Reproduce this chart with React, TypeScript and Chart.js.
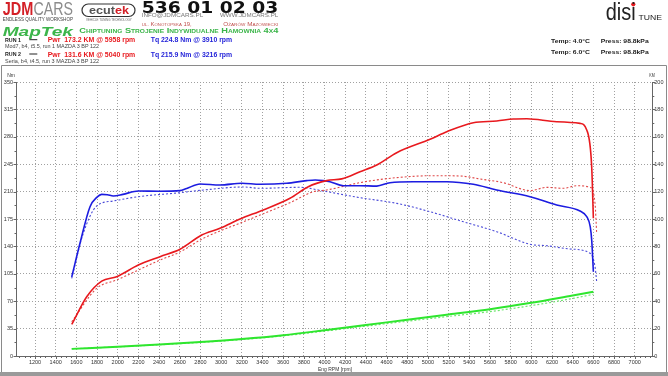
import React, { useEffect, useRef } from "react";
import { Chart, registerables } from "chart.js";
Chart.register(...registerables);

// ---------- DATA ----------
const run1PwrRpm = [1555, 1700, 1845, 1990, 2199, 2409, 2602, 2812, 2989, 3183, 3408, 3666, 3843, 4021, 4166, 4343, 4505, 4698, 5021, 5182, 5439, 5665, 5826, 5958, 6245, 6471, 6536, 6584, 6600];
const run1Pwr = [23, 43.3, 54.7, 57.9, 66.4, 72.5, 77.9, 88.3, 93.2, 100, 106.6, 115.1, 123.6, 128, 129.3, 134.5, 139.4, 148.4, 158.2, 163.7, 170.3, 171.5, 173, 173.2, 171, 169.8, 165, 138, 100.5];

const run1TqRpm = [1555, 1635, 1732, 1800, 1845, 1900, 1957, 2050, 2199, 2400, 2602, 2667, 2796, 2989, 3199, 3376, 3634, 3828, 3910, 3988, 4053, 4182, 4343, 4505, 4633, 4859, 5182, 5439, 5665, 5987, 6245, 6471, 6536, 6570, 6584, 6600];
const run1Tq = [101, 144, 190.7, 203, 206.5, 206, 204.4, 206.5, 210.8, 210.5, 211.2, 214, 219.7, 218.4, 220.6, 219.3, 220.6, 224, 224.8, 224, 222.6, 217.5, 217.5, 217, 221.4, 222.6, 222.6, 219.3, 212, 203.5, 192.9, 185.2, 178, 165, 148, 107.7];

const run2PwrRpm = [1555, 1797, 1990, 2409, 2602, 2828, 3215, 3666, 3892, 4021, 4376, 4698, 5040, 5311, 5504, 5729, 5987, 6149, 6310, 6439, 6568, 6616, 6632];
const run2Pwr = [25, 49.4, 55.5, 70, 76, 85.9, 98, 111.9, 119.9, 121.2, 127, 130.2, 131.6, 131.4, 129.2, 126.5, 120.7, 123.1, 122.4, 124.3, 123.1, 111.5, 89.6];

const run2TqRpm = [1555, 1667, 1797, 1957, 2199, 2602, 2828, 3216, 3376, 3763, 3988, 4343, 4698, 5021, 5343, 5665, 5987, 6149, 6374, 6568, 6616, 6632];
const run2Tq = [99.2, 156.7, 191.6, 198, 203.5, 208.6, 212, 215.9, 214.2, 215.5, 210.8, 202.2, 195, 184.3, 171.5, 158.8, 142.7, 140.9, 136.7, 131.2, 114.1, 95];

const lossRpm = [1555, 2000, 2400, 2800, 3200, 3600, 4000, 4400, 4800, 5200, 5600, 6000, 6400, 6600];
const run1Loss = [5.2, 6.8, 8.4, 10.2, 12.4, 15.2, 18.8, 22.6, 26.5, 30.3, 34.1, 38.8, 44.2, 46.9];
const run2Loss = [5.2, 6.7, 8.2, 9.9, 12, 14.7, 18.2, 21.8, 25.4, 28.9, 32.4, 36.8, 42, 45];

const rpmTicks = [1200, 1400, 1600, 1800, 2000, 2200, 2400, 2600, 2800, 3000, 3200, 3400, 3600, 3800, 4000, 4200, 4400, 4600, 4800, 5000, 5200, 5400, 5600, 5800, 6000, 6200, 6400, 6600, 6800, 7000];
const nmTicks = [0, 35, 70, 105, 140, 175, 210, 245, 280, 315, 350];
const kmTicks = [0, 20, 40, 60, 80, 100, 120, 140, 160, 180, 200];

const pts = (xs: number[], ys: number[]) => xs.map((x, i) => ({ x, y: ys[i] }));

const tickFont = { family: "'Liberation Sans', Arial, sans-serif", size: 5.5 };

const minorTicks = {
  id: "minorTicks",
  afterDraw(chart: any) {
    const { ctx, chartArea, scales } = chart;
    ctx.save();
    ctx.strokeStyle = "#666";
    ctx.lineWidth = 1;
    const xs = scales.x;
    for (let v = 1050; v <= 7150; v += 50) {
      const px = Math.round(xs.getPixelForValue(v)) + 0.5;
      const len = v % 200 === 0 ? 3 : 2;
      ctx.beginPath();
      ctx.moveTo(px, chartArea.bottom);
      ctx.lineTo(px, chartArea.bottom + len);
      ctx.stroke();
    }
    const yl = scales.y;
    for (let v = 0; v <= 350; v += 17.5) {
      const py = Math.round(yl.getPixelForValue(v)) + 0.5;
      const len = v % 35 === 0 ? 3 : 2;
      ctx.beginPath();
      ctx.moveTo(chartArea.left - len, py);
      ctx.lineTo(chartArea.left, py);
      ctx.stroke();
    }
    const yr = scales.y2;
    for (let v = 0; v <= 200; v += 10) {
      const py = Math.round(yr.getPixelForValue(v)) + 0.5;
      const len = v % 20 === 0 ? 3 : 2;
      ctx.beginPath();
      ctx.moveTo(chartArea.right, py);
      ctx.lineTo(chartArea.right + len, py);
      ctx.stroke();
    }
    ctx.restore();
  },
};

type T = { t: string; x: number; y: number; w: number; fs: number; c: string; b?: boolean; it?: boolean; f?: string; sc?: boolean };
const NARROW = "'Liberation Sans Narrow', 'Liberation Sans', Arial, sans-serif";
const SANS = "'Liberation Sans', Arial, sans-serif";
const texts: T[] = [
  { t: "JDM", x: 2.7, y: 15, w: 30.6, fs: 18.5, c: "#d42027", b: true, f: NARROW },
  { t: "CARS", x: 33.5, y: 15, w: 39.5, fs: 18.5, c: "#8c8c8c", f: NARROW },
  { t: "ENDLESS QUALITY WORKSHOP", x: 2.7, y: 20.7, w: 70.3, fs: 5.6, c: "#444", f: NARROW },
  { t: "VEHICLE TUNING TECHNOLOGY", x: 86, y: 20.7, w: 45.7, fs: 2.8, c: "#666" },
  { t: "536 01 02 03", x: 141.7, y: 13.3, w: 136.6, fs: 16, c: "#111", b: true, f: "'DejaVu Sans', sans-serif" },
  { t: "INFO@JDMCARS.PL", x: 141.7, y: 17.3, w: 61.6, fs: 5, c: "#777" },
  { t: "WWW.JDMCARS.PL", x: 220, y: 17.3, w: 58.3, fs: 5, c: "#777" },
  { t: "ul. Konotopska 19,", x: 141.7, y: 25.7, w: 50, fs: 5.5, c: "#c0504d", sc: true },
  { t: "Ożarów Mazowiecki", x: 223.3, y: 25.7, w: 55, fs: 5.5, c: "#c0504d", sc: true },
  { t: "MapTek", x: 2.7, y: 35.5, w: 70.3, fs: 12.6, c: "#3cb54a", b: true, it: true },
  { t: "Chiptuning Strojenie Indywidualne Hamownia 4x4", x: 79.3, y: 33.3, w: 199, fs: 7, c: "#3cb54a", b: true, sc: true },
  { t: "RUN 1", x: 5, y: 41.7, w: 16, fs: 6, c: "#222", b: true },
  { t: "Pwr  173.2 KM @ 5958 rpm", x: 47.7, y: 42, w: 87.6, fs: 6.5, c: "#e8191e", b: true },
  { t: "Tq 224.8 Nm @ 3910 rpm", x: 150.7, y: 42, w: 81.5, fs: 6.5, c: "#1f1fd8", b: true },
  { t: "Mod7, b4, t5.5, run 1 MAZDA 3 BP 122", x: 5, y: 48.3, w: 94, fs: 5.3, c: "#444" },
  { t: "RUN 2", x: 5, y: 56.3, w: 16, fs: 6, c: "#222", b: true },
  { t: "Pwr  131.6 KM @ 5040 rpm", x: 47.7, y: 56.5, w: 87.6, fs: 6.5, c: "#e8191e", b: true },
  { t: "Tq 215.9 Nm @ 3216 rpm", x: 150.7, y: 56.5, w: 81.5, fs: 6.5, c: "#1f1fd8", b: true },
  { t: "Seria, b4, t4.5, run 3 MAZDA 3 BP 122", x: 5, y: 63.3, w: 94, fs: 5.3, c: "#444" },
  { t: "disi", x: 605.7, y: 20, w: 30, fs: 23, c: "#222", f: NARROW },
  { t: "TUNE", x: 638.5, y: 20, w: 23.5, fs: 7.5, c: "#222", f: NARROW },
  { t: "Temp: 4.0°C", x: 551, y: 43.3, w: 39, fs: 5.8, c: "#222", b: true },
  { t: "Press: 98.8kPa", x: 600.7, y: 43.3, w: 48, fs: 5.8, c: "#222", b: true },
  { t: "Temp: 6.0°C", x: 551, y: 54.3, w: 39, fs: 5.8, c: "#222", b: true },
  { t: "Press: 98.8kPa", x: 600.7, y: 54.3, w: 48, fs: 5.8, c: "#222", b: true },
  { t: "Nm", x: 7.3, y: 77.3, w: 7.7, fs: 4.5, c: "#333" },
  { t: "KM", x: 649.3, y: 76.7, w: 5.5, fs: 4.5, c: "#333" },
  { t: "Eng RPM [rpm]", x: 318, y: 371, w: 34, fs: 5.5, c: "#333" },
];

export default function App() {
  const ref = useRef<HTMLCanvasElement>(null);
  useEffect(() => {
    document.body.style.margin = "0";
    const chart = new Chart(ref.current as HTMLCanvasElement, {
      type: "line",
      data: {
        datasets: [
          { label: "Pwr RUN 1", data: pts(run1PwrRpm, run1Pwr), yAxisID: "y2", borderColor: "#e8191e", borderWidth: 1.6 },
          { label: "Tq RUN 1", data: pts(run1TqRpm, run1Tq), yAxisID: "y", borderColor: "#1c1ce0", borderWidth: 1.6 },
          { label: "Pwr RUN 2", data: pts(run2PwrRpm, run2Pwr), yAxisID: "y2", borderColor: "#e04848", borderWidth: 1.1, borderDash: [2, 2] },
          { label: "Tq RUN 2", data: pts(run2TqRpm, run2Tq), yAxisID: "y", borderColor: "#4a4ad8", borderWidth: 1.1, borderDash: [2, 2] },
          { label: "Loss RUN 1", data: pts(lossRpm, run1Loss), yAxisID: "y2", borderColor: "#2ee62e", borderWidth: 2 },
          { label: "Loss RUN 2", data: pts(lossRpm, run2Loss), yAxisID: "y2", borderColor: "#6ee66e", borderWidth: 1.2, borderDash: [2, 2] },
        ] as any,
      },
      options: {
        animation: false,
        responsive: false,
        maintainAspectRatio: false,
        layout: { padding: { top: 16, left: 0, right: 0, bottom: 0 } },
        plugins: { legend: { display: false }, tooltip: { enabled: false } },
        elements: { point: { radius: 0 }, line: { cubicInterpolationMode: "monotone", fill: false } },
        scales: {
          x: {
            type: "linear",
            min: 1021,
            max: 7170,
            afterBuildTicks: (a: any) => { a.ticks = rpmTicks.map((v) => ({ value: v })); },
            afterFit: (s: any) => { s.height = 16; },
            grid: { color: "#a0a0a0", drawTicks: false, lineWidth: 1 },
            border: { display: true, color: "#666", width: 1, dash: [1, 2] },
            ticks: { font: tickFont, color: "#333", padding: 3, maxRotation: 0, autoSkip: false, callback: (v: any) => String(v) },
          },
          y: {
            position: "left",
            min: 0,
            max: 350,
            afterBuildTicks: (a: any) => { a.ticks = nmTicks.map((v) => ({ value: v })); },
            afterFit: (s: any) => { s.width = 16.5; },
            grid: { color: "#a0a0a0", drawTicks: false, lineWidth: 1 },
            border: { display: true, color: "#666", width: 1, dash: [1, 2] },
            ticks: { font: tickFont, color: "#333", padding: 3.5, autoSkip: false },
          },
          y2: {
            position: "right",
            min: 0,
            max: 200,
            afterBuildTicks: (a: any) => { a.ticks = kmTicks.map((v) => ({ value: v })); },
            afterFit: (s: any) => { s.width = 15.7; },
            grid: { display: false, drawTicks: false },
            border: { display: true, color: "#666", width: 1 },
            ticks: { font: tickFont, color: "#333", padding: 2, autoSkip: false },
          },
        },
      } as any,
      plugins: [minorTicks],
    });
    return () => chart.destroy();
  }, []);

  return (
    <div style={{ position: "absolute", left: 0, top: 0, width: 668, height: 376, background: "#fff", overflow: "hidden" }}>
      <canvas ref={ref} width={668} height={306} style={{ position: "absolute", left: 0, top: 66, width: 668, height: 306 }} />
      <svg width={668} height={376} style={{ position: "absolute", left: 0, top: 0, pointerEvents: "none" }}>
        <line x1={1.5} y1={65.5} x2={666.5} y2={65.5} stroke="#8a8a8a" strokeWidth={1} />
        <line x1={1.5} y1={65.5} x2={1.5} y2={372} stroke="#8a8a8a" strokeWidth={1} />
        <line x1={666.5} y1={65.5} x2={666.5} y2={372} stroke="#8a8a8a" strokeWidth={1} />
        <rect x={0} y={372} width={668} height={4} fill="#9a9a9a" />
        <rect x={82} y={4} width={53} height={12.5} rx={6.2} fill="none" stroke="#333" strokeWidth={1.2} />
        <text x={89} y={13.6} fontSize={10} fontFamily={SANS} fontWeight="bold" textLength={40} lengthAdjust="spacingAndGlyphs" fill="#555">
          ecut<tspan fill="#d42027">ek</tspan>
        </text>
        <line x1={29.3} y1={39.7} x2={37.3} y2={39.7} stroke="#222" strokeWidth={1} />
        <line x1={29.3} y1={54} x2={37.3} y2={54} stroke="#222" strokeWidth={1} />
        <circle cx={633.3} cy={4.3} r={2.1} fill="#e8191e" />
        {texts.map((d, i) => (
          <text
            key={i}
            x={d.x}
            y={d.y}
            fontSize={d.fs}
            fill={d.c}
            fontFamily={d.f || SANS}
            fontWeight={d.b ? "bold" : "normal"}
            fontStyle={d.it ? "italic" : "normal"}
            textLength={d.w}
            lengthAdjust="spacingAndGlyphs"
            style={{ fontVariant: d.sc ? "small-caps" : "normal", whiteSpace: "pre" }}
          >
            {d.t}
          </text>
        ))}
      </svg>
    </div>
  );
}
